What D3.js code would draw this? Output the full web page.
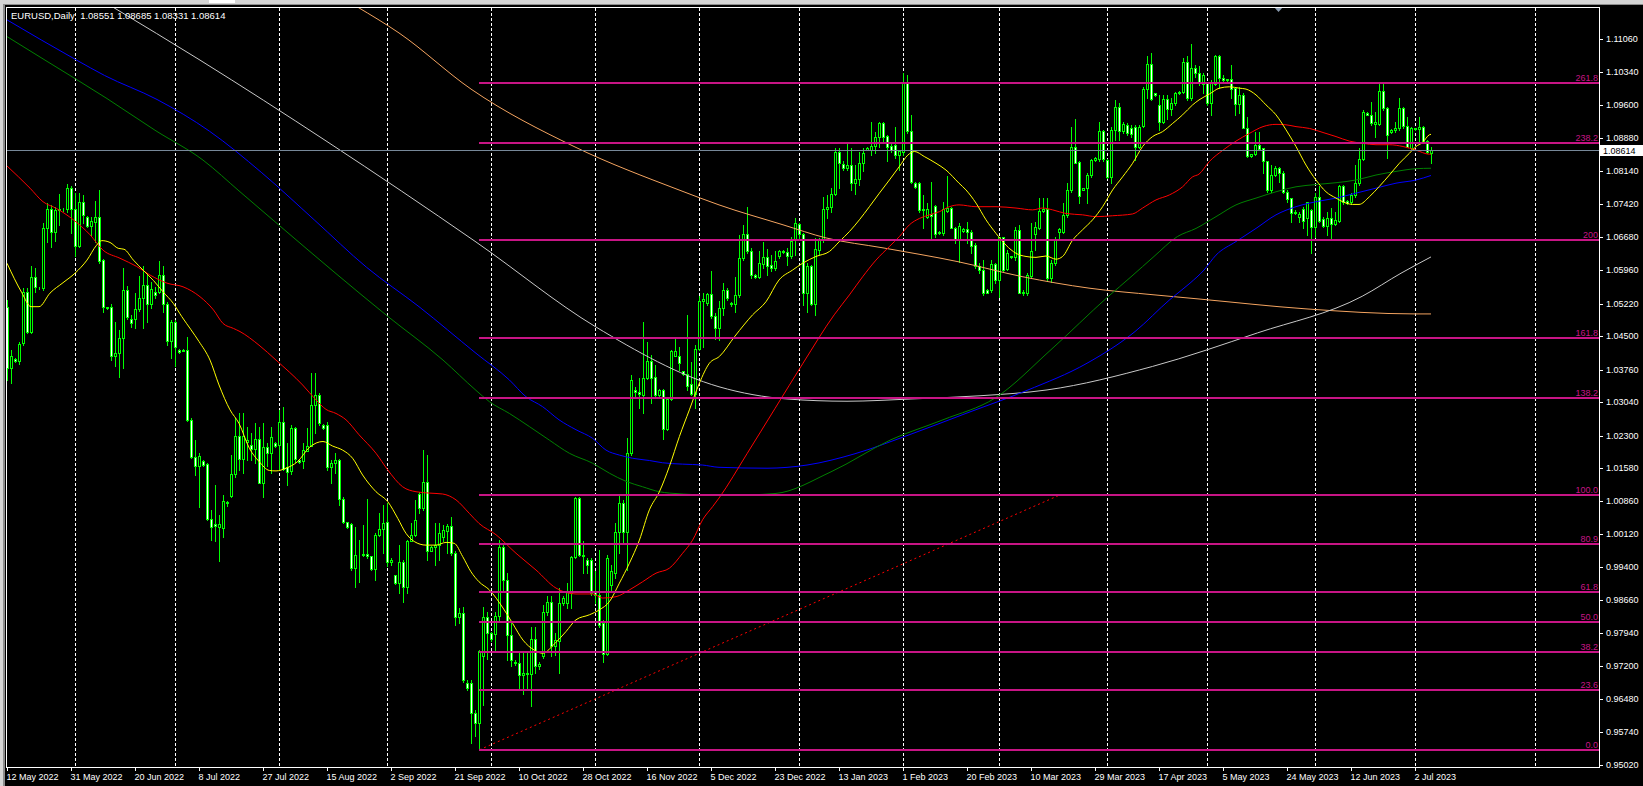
<!DOCTYPE html>
<html>
<head>
<meta charset="utf-8">
<script src="https://cdn.jsdelivr.net/npm/d3@7"></script>
<style>
html, body { margin: 0; padding: 0; background: #000; overflow: hidden; }
svg { display: block; }
text { font-family: "Liberation Sans", Arial, sans-serif; }
</style>
</head>
<body>
<svg id="chart" width="1643" height="786"></svg>
<script>
var header = "EURUSD,Daily  1.08551 1.08685 1.08331 1.08614";
var lastPrice = 1.08614;

// daily bars [open, high, low, close], one per trading day (incl. sunday bars)
var candles = [
[1.0515,1.0530,1.0353,1.0379],[1.0379,1.0419,1.0347,1.0405],[1.0399,1.0401,1.0393,1.0396],[1.0396,1.0438,1.0388,1.0433],
[1.0434,1.0556,1.0430,1.0548],[1.0548,1.0556,1.0456,1.0460],[1.0460,1.0605,1.0456,1.0580],[1.0580,1.0600,1.0548,1.0559],
[1.0556,1.0558,1.0554,1.0557],[1.0556,1.0699,1.0552,1.0688],[1.0688,1.0745,1.0659,1.0730],[1.0730,1.0740,1.0646,1.0679],
[1.0679,1.0736,1.0661,1.0729],[1.0729,1.0764,1.0696,1.0730],[1.0731,1.0733,1.0727,1.0732],[1.0730,1.0786,1.0725,1.0777],
[1.0777,1.0782,1.0677,1.0730],[1.0730,1.0766,1.0626,1.0649],[1.0649,1.0766,1.0646,1.0747],[1.0747,1.0762,1.0699,1.0718],
[1.0714,1.0716,1.0692,1.0693],[1.0693,1.0713,1.0674,1.0704],[1.0703,1.0749,1.0659,1.0714],[1.0714,1.0772,1.0611,1.0617],
[1.0618,1.0620,1.0504,1.0514],[1.0514,1.0515,1.0510,1.0512],[1.0514,1.0521,1.0397,1.0405],[1.0405,1.0482,1.0383,1.0413],
[1.0413,1.0464,1.0359,1.0445],[1.0445,1.0600,1.0379,1.0552],[1.0552,1.0561,1.0487,1.0492],[1.0487,1.0497,1.0471,1.0478],
[1.0487,1.0545,1.0467,1.0509],[1.0509,1.0583,1.0506,1.0534],[1.0534,1.0604,1.0467,1.0563],[1.0563,1.0585,1.0482,1.0521],
[1.0521,1.0570,1.0511,1.0553],[1.0548,1.0558,1.0535,1.0541],[1.0548,1.0615,1.0545,1.0585],[1.0585,1.0605,1.0504,1.0521],
[1.0521,1.0526,1.0430,1.0440],[1.0440,1.0486,1.0402,1.0482],[1.0482,1.0486,1.0383,1.0427],[1.0419,1.0422,1.0413,1.0415],
[1.0419,1.0422,1.0416,1.0418],[1.0419,1.0449,1.0263,1.0265],[1.0265,1.0268,1.0180,1.0182],[1.0182,1.0220,1.0143,1.0162],
[1.0162,1.0192,1.0073,1.0185],[1.0173,1.0176,1.0163,1.0165],[1.0167,1.0169,1.0044,1.0045],[1.0045,1.0066,0.9999,1.0029],
[1.0035,1.0121,0.9996,1.0030],[1.0029,1.0055,0.9952,1.0035],[1.0025,1.0099,1.0007,1.0086],[1.0080,1.0086,1.0075,1.0083],
[1.0097,1.0187,1.0095,1.0145],[1.0145,1.0268,1.0139,1.0229],[1.0229,1.0279,1.0154,1.0178],[1.0178,1.0279,1.0147,1.0229],
[1.0215,1.0250,1.0176,1.0221],[1.0210,1.0235,1.0176,1.0200],[1.0200,1.0257,1.0169,1.0222],[1.0222,1.0250,1.0125,1.0126],
[1.0126,1.0257,1.0095,1.0204],[1.0204,1.0213,1.0162,1.0191],[1.0191,1.0250,1.0147,1.0226],[1.0213,1.0217,1.0205,1.0208],
[1.0210,1.0287,1.0154,1.0261],[1.0261,1.0294,1.0154,1.0156],[1.0160,1.0213,1.0121,1.0149],[1.0151,1.0253,1.0145,1.0246],
[1.0246,1.0250,1.0172,1.0178],[1.0176,1.0178,1.0170,1.0172],[1.0173,1.0213,1.0158,1.0198],[1.0197,1.0246,1.0195,1.0207],
[1.0207,1.0368,1.0206,1.0298],[1.0298,1.0368,1.0235,1.0320],[1.0320,1.0324,1.0254,1.0257],[1.0254,1.0256,1.0245,1.0247],
[1.0254,1.0261,1.0154,1.0160],[1.0160,1.0176,1.0125,1.0169],[1.0169,1.0191,1.0147,1.0176],[1.0176,1.0178,1.0077,1.0089],
[1.0089,1.0095,1.0036,1.0040],[1.0038,1.0040,1.0025,1.0027],[1.0035,1.0036,0.9934,0.9937],[0.9937,1.0029,0.9896,0.9966],
[0.9966,0.9999,0.9907,0.9967],[0.9967,1.0033,0.9963,0.9969],[0.9969,1.0089,0.9959,0.9963],[0.9963,0.9964,0.9934,0.9935],
[0.9935,1.0014,0.9911,1.0011],[1.0011,1.0058,1.0008,1.0023],[1.0023,1.0077,0.9970,1.0036],[1.0038,1.0080,0.9941,0.9950],
[0.9950,0.9960,0.9944,0.9955],[0.9922,0.9922,0.9902,0.9905],[0.9905,0.9988,0.9882,0.9950],[0.9950,0.9955,0.9863,0.9896],
[0.9896,0.9999,0.9882,0.9997],[0.9997,1.0036,0.9996,1.0011],[1.0011,1.0088,1.0008,1.0044],[1.0101,1.0106,1.0058,1.0069],
[1.0069,1.0198,1.0066,1.0128],[1.0128,1.0187,0.9955,0.9976],[0.9976,0.9985,0.9974,0.9983],[0.9983,1.0036,0.9944,0.9988],
[0.9988,1.0036,0.9955,1.0014],[1.0007,1.0033,0.9996,1.0022],[1.0020,1.0035,0.9970,1.0031],[1.0031,1.0051,0.9966,0.9970],
[0.9970,0.9974,0.9812,0.9830],[0.9830,0.9848,0.9815,0.9837],[0.9837,0.9852,0.9686,0.9689],[0.9684,0.9690,0.9668,0.9672],
[0.9684,0.9690,0.9550,0.9618],[0.9618,0.9624,0.9565,0.9594],[0.9594,0.9756,0.9536,0.9753],[0.9742,0.9852,0.9635,0.9829],
[0.9829,0.9841,0.9737,0.9793],[0.9793,0.9796,0.9777,0.9780],[0.9792,0.9841,0.9756,0.9832],[0.9832,0.9999,0.9823,0.9983],
[0.9983,0.9992,0.9889,0.9910],[0.9910,0.9926,0.9734,0.9790],[0.9790,0.9815,0.9720,0.9734],[0.9730,0.9735,0.9722,0.9728],
[0.9728,0.9750,0.9670,0.9700],[0.9700,0.9755,0.9660,0.9706],[0.9706,0.9750,0.9668,0.9703],[0.9703,0.9808,0.9632,0.9780],
[0.9780,0.9808,0.9705,0.9720],[0.9720,0.9730,0.9715,0.9725],[0.9742,0.9856,0.9738,0.9841],[0.9841,0.9876,0.9834,0.9862],
[0.9862,0.9876,0.9742,0.9765],[0.9765,0.9793,0.9745,0.9778],[0.9777,0.9893,0.9705,0.9860],[0.9860,0.9875,0.9855,0.9871],
[0.9860,0.9904,0.9849,0.9885],[0.9883,0.9963,0.9849,0.9961],[0.9961,1.0094,0.9959,1.0092],[1.0092,1.0095,0.9963,0.9966],
[0.9964,0.9998,0.9926,0.9966],[0.9955,0.9959,0.9926,0.9944],[0.9955,0.9959,0.9878,0.9883],[0.9885,0.9930,0.9860,0.9878],
[0.9878,0.9977,0.9808,0.9812],[0.9815,0.9823,0.9730,0.9748],[0.9748,0.9966,0.9745,0.9959],[0.9900,0.9944,0.9889,0.9930],
[0.9927,1.0036,0.9915,1.0018],[1.0018,1.0097,0.9970,1.0081],[1.0081,1.0088,0.9992,1.0018],[1.0018,1.0224,0.9933,1.0191],
[1.0191,1.0364,1.0187,1.0353],[1.0331,1.0338,1.0316,1.0327],[1.0327,1.0357,1.0290,1.0322],[1.0320,1.0482,1.0279,1.0357],
[1.0357,1.0438,1.0355,1.0394],[1.0394,1.0408,1.0302,1.0357],[1.0359,1.0386,1.0313,1.0320],[1.0320,1.0332,1.0316,1.0331],
[1.0331,1.0332,1.0222,1.0244],[1.0244,1.0313,1.0243,1.0310],[1.0310,1.0419,1.0309,1.0417],[1.0407,1.0449,1.0405,1.0416],
[1.0406,1.0427,1.0375,1.0391],[1.0372,1.0373,1.0364,1.0366],[1.0366,1.0497,1.0331,1.0340],[1.0344,1.0393,1.0320,1.0322],
[1.0322,1.0430,1.0290,1.0421],[1.0421,1.0539,1.0419,1.0528],[1.0527,1.0545,1.0427,1.0531],[1.0523,1.0545,1.0519,1.0543],
[1.0543,1.0593,1.0489,1.0495],[1.0495,1.0500,1.0443,1.0467],[1.0467,1.0527,1.0442,1.0512],[1.0512,1.0567,1.0497,1.0552],
[1.0552,1.0556,1.0530,1.0534],[1.0524,1.0526,1.0517,1.0520],[1.0520,1.0581,1.0504,1.0541],[1.0540,1.0674,1.0537,1.0622],
[1.0622,1.0696,1.0618,1.0675],[1.0675,1.0736,1.0633,1.0637],[1.0638,1.0644,1.0579,1.0584],[1.0585,1.0587,1.0579,1.0581],
[1.0581,1.0637,1.0579,1.0611],[1.0609,1.0659,1.0600,1.0625],[1.0625,1.0643,1.0585,1.0606],[1.0607,1.0629,1.0593,1.0600],
[1.0600,1.0637,1.0596,1.0616],[1.0626,1.0640,1.0622,1.0638],[1.0638,1.0640,1.0633,1.0635],[1.0635,1.0644,1.0607,1.0626],
[1.0626,1.0670,1.0622,1.0660],[1.0663,1.0712,1.0629,1.0699],[1.0697,1.0699,1.0663,1.0675],[1.0675,1.0677,1.0519,1.0545],
[1.0545,1.0611,1.0504,1.0605],[1.0605,1.0607,1.0519,1.0520],[1.0520,1.0666,1.0497,1.0643],[1.0640,1.0666,1.0629,1.0663],
[1.0663,1.0758,1.0659,1.0732],[1.0732,1.0762,1.0710,1.0736],[1.0736,1.0777,1.0725,1.0763],[1.0763,1.0865,1.0762,1.0858],
[1.0858,1.0865,1.0777,1.0832],[1.0830,1.0836,1.0817,1.0821],[1.0821,1.0874,1.0817,1.0828],[1.0828,1.0865,1.0773,1.0788],
[1.0788,1.0828,1.0763,1.0797],[1.0797,1.0858,1.0784,1.0832],[1.0832,1.0865,1.0814,1.0854],[1.0862,1.0867,1.0861,1.0865],
[1.0861,1.0924,1.0850,1.0871],[1.0871,1.0902,1.0854,1.0891],[1.0891,1.0924,1.0869,1.0920],[1.0920,1.0924,1.0880,1.0891],
[1.0892,1.0895,1.0836,1.0867],[1.0871,1.0876,1.0858,1.0861],[1.0872,1.0913,1.0843,1.0850],[1.0850,1.0861,1.0817,1.0859],
[1.0858,1.1031,1.0850,1.1011],[1.1011,1.1027,1.0898,1.0903],[1.0903,1.0939,1.0789,1.0791],[1.0788,1.0791,1.0777,1.0780],
[1.0788,1.0791,1.0725,1.0729],[1.0728,1.0762,1.0688,1.0731],[1.0714,1.0744,1.0710,1.0731],[1.0719,1.0791,1.0666,1.0716],
[1.0738,1.0740,1.0670,1.0675],[1.0677,1.0682,1.0675,1.0681],[1.0677,1.0747,1.0674,1.0731],[1.0727,1.0803,1.0725,1.0734],
[1.0734,1.0736,1.0688,1.0690],[1.0690,1.0692,1.0655,1.0663],[1.0663,1.0700,1.0613,1.0694],[1.0683,1.0688,1.0681,1.0686],
[1.0686,1.0703,1.0655,1.0681],[1.0681,1.0685,1.0633,1.0649],[1.0651,1.0655,1.0600,1.0604],[1.0604,1.0611,1.0589,1.0595],
[1.0596,1.0618,1.0541,1.0545],[1.0552,1.0553,1.0545,1.0546],[1.0551,1.0618,1.0548,1.0609],[1.0609,1.0611,1.0567,1.0574],
[1.0574,1.0670,1.0537,1.0668],[1.0668,1.0670,1.0593,1.0596],[1.0598,1.0640,1.0596,1.0634],[1.0624,1.0628,1.0622,1.0626],
[1.0624,1.0692,1.0618,1.0685],[1.0685,1.0696,1.0545,1.0546],[1.0548,1.0552,1.0541,1.0546],[1.0546,1.0589,1.0541,1.0585],
[1.0583,1.0699,1.0580,1.0638],[1.0676,1.0703,1.0640,1.0692],[1.0688,1.0755,1.0686,1.0727],[1.0727,1.0755,1.0725,1.0730],
[1.0730,1.0755,1.0574,1.0578],[1.0578,1.0618,1.0570,1.0611],[1.0611,1.0670,1.0607,1.0664],[1.0681,1.0688,1.0662,1.0686],
[1.0681,1.0744,1.0677,1.0718],[1.0718,1.0788,1.0714,1.0773],[1.0773,1.0913,1.0769,1.0869],[1.0869,1.0929,1.0832,1.0833],
[1.0834,1.0836,1.0744,1.0760],[1.0773,1.0778,1.0772,1.0777],[1.0777,1.0810,1.0744,1.0806],[1.0806,1.0841,1.0802,1.0839],
[1.0839,1.0845,1.0838,1.0843],[1.0841,1.0924,1.0838,1.0903],[1.0903,1.0906,1.0838,1.0841],[1.0839,1.0841,1.0799,1.0802],
[1.0802,1.0913,1.0788,1.0906],[1.0906,1.0972,1.0883,1.0956],[1.0956,1.0965,1.0883,1.0904],[1.0904,1.0924,1.0898,1.0919],
[1.0917,1.0920,1.0894,1.0898],[1.0911,1.0917,1.0891,1.0897],[1.0913,1.0917,1.0839,1.0867],[1.0867,1.0917,1.0865,1.0913],
[1.0914,1.1001,1.0913,1.0996],[1.0996,1.1068,1.0976,1.1051],[1.1051,1.1075,1.0972,1.0973],[1.0987,1.0988,1.0981,1.0983],
[1.0961,1.0983,1.0906,1.0923],[1.0924,1.0983,1.0920,1.0973],[1.0973,1.0983,1.0929,1.0951],[1.0951,1.0976,1.0939,1.0966],
[1.0966,1.0990,1.0961,1.0987],[1.0990,1.0992,1.0986,1.0988],[1.0990,1.1064,1.0987,1.1055],[1.1055,1.1068,1.0972,1.0976],
[1.0976,1.1096,1.0972,1.1043],[1.1043,1.1049,1.1023,1.1031],[1.1031,1.1046,1.1005,1.1012],[1.1007,1.1031,1.0987,1.1026],
[1.1009,1.1012,1.0961,1.0965],[1.0965,1.1016,1.0939,1.1009],[1.1007,1.1071,1.1005,1.1068],[1.1068,1.1071,1.0998,1.1021],
[1.1021,1.1026,1.1010,1.1016],[1.1015,1.1019,1.1013,1.1018],[1.1018,1.1049,1.0976,1.0996],[1.0998,1.1001,1.0939,1.0962],
[1.0962,1.1001,1.0943,1.0983],[1.0983,1.0987,1.0909,1.0911],[1.0911,1.0935,1.0845,1.0847],[1.0848,1.0853,1.0846,1.0852],
[1.0852,1.0902,1.0850,1.0873],[1.0873,1.0902,1.0861,1.0864],[1.0865,1.0866,1.0810,1.0836],[1.0836,1.0837,1.0769,1.0773],
[1.0773,1.0828,1.0769,1.0806],[1.0806,1.0825,1.0803,1.0821],[1.0821,1.0823,1.0791,1.0810],[1.0810,1.0814,1.0766,1.0768],
[1.0768,1.0773,1.0747,1.0753],[1.0755,1.0756,1.0703,1.0722],[1.0725,1.0729,1.0719,1.0722],[1.0714,1.0725,1.0703,1.0719],
[1.0731,1.0736,1.0688,1.0705],[1.0712,1.0747,1.0674,1.0746],[1.0729,1.0731,1.0633,1.0692],[1.0692,1.0766,1.0670,1.0758],
[1.0758,1.0781,1.0703,1.0705],[1.0709,1.0714,1.0692,1.0694],[1.0694,1.0725,1.0674,1.0710],[1.0710,1.0733,1.0666,1.0697],
[1.0697,1.0725,1.0696,1.0707],[1.0705,1.0784,1.0703,1.0782],[1.0782,1.0784,1.0741,1.0747],[1.0749,1.0751,1.0743,1.0744],
[1.0747,1.0766,1.0741,1.0762],[1.0762,1.0828,1.0758,1.0788],[1.0788,1.0865,1.0784,1.0842],[1.0842,1.0950,1.0839,1.0945],
[1.0942,1.0946,1.0938,1.0939],[1.0939,1.0968,1.0917,1.0920],[1.0918,1.0946,1.0891,1.0924],[1.0918,1.1012,1.0917,1.0992],
[1.0992,1.1012,1.0950,1.0954],[1.0954,1.0957,1.0843,1.0895],[1.0902,1.0907,1.0900,1.0906],[1.0906,1.0924,1.0902,1.0911],
[1.0909,1.0977,1.0906,1.0955],[1.0955,1.0957,1.0909,1.0914],[1.0914,1.0935,1.0867,1.0869],[1.0865,1.0913,1.0861,1.0909],
[1.0907,1.0910,1.0906,1.0909],[1.0908,1.0935,1.0875,1.0913],[1.0913,1.0915,1.0878,1.0881],[1.0881,1.0884,1.0854,1.0858],
[1.08551,1.08685,1.08331,1.08614]
];

// moving averages: [bar index, price]
var maYellow = [[0,1.0611],[3.7,1.0546],[6,1.0515],[8,1.0515],[10.75,1.0545],[14,1.0568],[17,1.0589],[20,1.0618],[22.4,1.0651],
[23.7,1.0661],[25.75,1.0657],[27.8,1.0644],[29.25,1.0642],[31.6,1.0618],[34,1.0596],[36.6,1.0573],[39,1.0548],[41.6,1.0522],
[43.7,1.0493],[46,1.0464],[48,1.0438],[50.75,1.0397],[53,1.0342],[55.75,1.0287],[58,1.0257],[60.6,1.0202],[63,1.0173],
[65.6,1.0153],[67.25,1.0152],[69.75,1.0158],[72.7,1.0173],[75.6,1.0204],[79,1.0217],[81.4,1.0207],[83.9,1.0198],[86.4,1.0180],
[88.9,1.0143],[92.25,1.0106],[95.2,1.0084],[97.7,1.0047],[99.75,1.0014],[101.8,0.9996],[104.75,0.9988],[107.25,0.9988],
[109.75,0.9994],[111.8,0.9992],[113.9,0.9963],[116,0.9929],[118,0.9907],[120.6,0.9889],[124,0.9849],[126.4,0.9815],
[129,0.9778],[131.8,0.9756],[133.9,0.9749],[137,0.9771],[139.75,0.9797],[142.25,0.9823],[145.6,0.9834],[148.1,0.9845],
[150.6,0.9863],[153.1,0.9904],[155.6,0.9948],[158.1,0.9999],[160.6,1.0066],[163.1,1.0106],[165.6,1.0162],[168.1,1.0228],
[170.6,1.0287],[173.1,1.0346],[175.6,1.0390],[178.1,1.0405],[182,1.0450],[186.4,1.0497],[189.75,1.0526],[193,1.0574],
[196.4,1.0596],[198.9,1.0611],[202.25,1.0626],[205.6,1.0637],[208.1,1.0659],[210.6,1.0681],[213.1,1.0707],[215.6,1.0736],
[218.1,1.0766],[220.6,1.0795],[223.1,1.0825],[225.2,1.0850],[226.9,1.0858],[229.3,1.0847],[232.25,1.0832],[234.75,1.0817],
[238,1.0788],[239.75,1.0773],[242.25,1.0744],[244.75,1.0707],[247.25,1.0677],[249.75,1.0651],[252.25,1.0633],[254.75,1.0626],
[257.25,1.0624],[259.75,1.0627],[262.25,1.0620],[263.9,1.0626],[266.4,1.0662],[268.9,1.0685],[271.4,1.0707],[273.9,1.0736],
[276.4,1.0773],[278.9,1.0802],[281.4,1.0832],[283.9,1.0869],[286.4,1.0891],[288.9,1.0902],[291.4,1.0920],[293.9,1.0939],
[296.4,1.0961],[298,1.0972],[300.6,1.0985],[303.1,1.0998],[305.6,1.1001],[308.1,1.0998],[309.75,1.0996],[312.25,1.0983],
[314.75,1.0961],[317.25,1.0939],[319.75,1.0906],[322.25,1.0869],[324.75,1.0828],[327.25,1.0795],[329.75,1.0769],
[332.25,1.0755],[334.75,1.0744],[336.4,1.0741],[338,1.0741],[340.6,1.0758],[343.1,1.0781],[345.6,1.0806],[348.1,1.0832],
[350.6,1.0854],[352.25,1.0869],[353.9,1.0878],[355.6,1.0895],[356,1.0896]];

var maRed = [[0,1.0826],[5.75,1.0777],[9,1.0747],[12.4,1.0732],[16.6,1.0707],[20.75,1.0674],[24,1.0640],[28.25,1.0622],
[32.4,1.0604],[35.75,1.0585],[40,1.0567],[44,1.0559],[48.25,1.0537],[51.6,1.0508],[54,1.0478],[56.6,1.0467],[58.25,1.0460],
[63,1.0430],[67.25,1.0397],[73.9,1.0342],[77.25,1.0309],[79.75,1.0288],[82.25,1.0279],[84.75,1.0265],[88,1.0232],
[92.25,1.0191],[95.2,1.0154],[98.9,1.0117],[102.25,1.0106],[105.6,1.0103],[108.9,1.0101],[112.25,1.0088],[115.6,1.0058],
[118,1.0036],[122.25,1.0011],[127.25,0.9970],[132.25,0.9933],[137.25,0.9893],[142.25,0.9880],[146.4,0.9880],[148.9,0.9871],
[152.25,0.9874],[155.6,0.9889],[158.9,0.9907],[162.25,0.9926],[165.6,0.9937],[168.9,0.9970],[171.4,0.9999],[173.9,1.0044],
[176.4,1.0073],[178,1.0092],[185,1.0190],[192,1.0290],[199,1.0390],[206.8,1.0497],[210.6,1.0541],[213.9,1.0581],
[217.25,1.0618],[220.6,1.0648],[223.1,1.0670],[225.6,1.0696],[228.1,1.0710],[230.6,1.0718],[233.1,1.0725],[235.6,1.0736],
[238,1.0740],[242.25,1.0736],[247.25,1.0736],[252.25,1.0733],[256.4,1.0729],[258.9,1.0733],[261.4,1.0729],[264.75,1.0721],
[268.9,1.0718],[272.25,1.0714],[276.4,1.0716],[281.4,1.0720],[283.9,1.0733],[287.25,1.0751],[290.6,1.0762],[293.9,1.0780],
[296.4,1.0802],[298,1.0808],[300.6,1.0836],[304,1.0861],[307.25,1.0881],[310.6,1.0898],[314,1.0913],[317.25,1.0918],
[319.75,1.0917],[322.25,1.0913],[325.6,1.0909],[329,1.0900],[332.25,1.0891],[335.6,1.0881],[339,1.0876],[342.25,1.0873],
[345.6,1.0873],[349,1.0869],[352.25,1.0861],[355.6,1.0852],[356,1.0852]];

var maGreen = [[0,1.1112],[9.5,1.1060],[25,1.0975],[37,1.0905],[49,1.0839],[58.25,1.0769],[70,1.0680],[82,1.0590],
[95,1.0495],[109,1.0397],[117.25,1.0330],[120.6,1.0305],[125.6,1.0279],[130.6,1.0250],[135.6,1.0220],[140.6,1.0191],
[146.4,1.0169],[150.6,1.0147],[154.75,1.0129],[158.9,1.0117],[163.1,1.0106],[165.6,1.0103],[180,1.0098],[192,1.0102],
[206,1.0150],[221,1.0221],[234,1.0265],[247,1.0313],[261,1.0420],[275.25,1.0537],[281,1.0581],[286.75,1.0626],[292.6,1.0670],
[297.25,1.0688],[302.25,1.0714],[307.25,1.0740],[312.25,1.0755],[317.25,1.0769],[322.25,1.0780],[327.25,1.0785],
[332.25,1.0789],[337.25,1.0795],[342.25,1.0806],[347.25,1.0814],[352.25,1.0820],[356,1.0821]];

var maBlue = [[0,1.1149],[17.4,1.1060],[24.4,1.1026],[37.5,1.0973],[50.6,1.0903],[63.7,1.0811],[76.8,1.0707],[89.9,1.0602],
[103,1.0515],[117.25,1.0412],[125.6,1.0353],[129.75,1.0316],[133.9,1.0294],[138,1.0265],[142.25,1.0243],[146.4,1.0224],
[149.75,1.0198],[153.1,1.0187],[156.4,1.0180],[160.6,1.0175],[163.9,1.0170],[168.9,1.0167],[173.9,1.0165],[178,1.0160],
[190,1.0158],[200,1.0165],[212,1.0190],[225,1.0230],[240,1.0280],[255,1.0330],[270,1.0390],[282,1.0460],[290.75,1.0531],
[295.75,1.0567],[299.25,1.0596],[302.25,1.0629],[307.25,1.0659],[312.25,1.0688],[317.25,1.0718],[322.25,1.0736],
[327.25,1.0747],[332.25,1.0755],[337.25,1.0766],[342.25,1.0777],[347.25,1.0788],[352.25,1.0795],[356,1.0805]];

var maWhite = [[26.5,1.1177],[48.25,1.1060],[80,1.0880],[117.25,1.0658],[147.25,1.0470],[178,1.0338],[195,1.0311],
[210,1.0306],[226,1.0311],[243,1.0318],[260,1.0331],[286.4,1.0383],[312.6,1.0457],[338.8,1.0538],[348.5,1.0589],[356,1.0625]];

var maOrange = [[87.5,1.1178],[98,1.1120],[116,1.0996],[142,1.0868],[168,1.0773],[178,1.0740],[194,1.0696],[204.75,1.0667],
[219,1.0645],[238,1.0614],[254,1.0581],[270.5,1.0556],[287,1.0541],[298,1.0532],[325,1.0510],[352,1.0499],[356,1.0499]];

var priceTicks = [1.11060,1.10340,1.09600,1.08880,1.08140,1.07420,1.06680,1.05960,1.05220,1.04500,1.03760,1.03040,
1.02300,1.01580,1.00860,1.00120,0.99400,0.98660,0.97940,0.97200,0.96480,0.95740,0.95020];

var dateBars = [0,16,32,48,64,80,96,112,128,144,160,176,192,208,224,240,256,272,288,304,320,336,352];
var dateLabels = ["12 May 2022","31 May 2022","20 Jun 2022","8 Jul 2022","27 Jul 2022","15 Aug 2022","2 Sep 2022",
"21 Sep 2022","10 Oct 2022","28 Oct 2022","16 Nov 2022","5 Dec 2022","23 Dec 2022","13 Jan 2023","1 Feb 2023",
"20 Feb 2023","10 Mar 2023","29 Mar 2023","17 Apr 2023","5 May 2023","24 May 2023","12 Jun 2023","2 Jul 2023"];

// first bar of each month -> vertical grid
var monthBars = [17,42,68,95,121,147,173,198,224,248,275,300,327,352,382];

// fibonacci retracement / expansion
var fibLow = 0.95357, fibHigh = 1.00985, fibLowBar = 118, fibHighBar = 263;
var fibLevels = [0, 23.6, 38.2, 50, 61.8, 80.9, 100, 138.2, 161.8, 200, 238.2, 261.8];
var fibTexts = ["0.0","23.6","38.2","50.0","61.8","80.9","100.0","138.2","161.8","200","238.2","261.8"];

var svg = d3.select("#chart"),
    W = 1643, H = 786,
    plotL = 7, plotT = 8, plotR = 1599, plotB = 767;

var x = d3.scaleLinear().domain([0, candles.length - 1]).range([7, 1431]);
var y = d3.scaleLinear().domain([0.9502, 1.1106]).range([765, 39.3]);
var yr = y.copy().interpolate(d3.interpolateRound);

svg.append("rect").attr("width", W).attr("height", H).attr("fill", "#000");

// window chrome
svg.append("rect").attr("x", 0).attr("y", 0).attr("width", W).attr("height", 4).attr("fill", "#d4d4d4");
svg.append("rect").attr("x", 0).attr("y", 4).attr("width", W).attr("height", 1).attr("fill", "#8c8c8c");
svg.append("rect").attr("x", 0).attr("y", 0).attr("width", 3).attr("height", H).attr("fill", "#d4d4d4");
svg.append("rect").attr("x", 3).attr("y", 4).attr("width", 2).attr("height", H).attr("fill", "#8c8c8c");
svg.append("rect").attr("x", 209).attr("y", 0).attr("width", 26).attr("height", 3).attr("fill", "#fff");
svg.append("path").attr("d", "M1274,7L1283,7L1278.5,12Z").attr("fill", "#8a9bb0");

svg.append("defs").append("clipPath").attr("id", "plotclip")
  .append("rect").attr("x", plotL).attr("y", plotT).attr("width", plotR - plotL).attr("height", plotB - plotT);

var g = svg.append("g").attr("clip-path", "url(#plotclip)");

// month grid
g.selectAll(".vgrid")
  .data(monthBars)
  .enter().append("line")
    .attr("class", "vgrid")
    .attr("x1", function(d) { return x(d) + 0.5; })
    .attr("x2", function(d) { return x(d) + 0.5; })
    .attr("y1", plotT)
    .attr("y2", plotB)
    .attr("stroke", "#fff")
    .attr("stroke-dasharray", "3,2")
    .attr("shape-rendering", "crispEdges");

// candles
var bar = g.selectAll(".bar")
  .data(candles)
  .enter().append("g")
    .attr("class", "bar");

bar.append("line")
    .attr("x1", function(d, i) { return x(i) + 0.5; })
    .attr("x2", function(d, i) { return x(i) + 0.5; })
    .attr("y1", function(d) { return yr(Math.max(d[1], d[0], d[3])); })
    .attr("y2", function(d) { return yr(Math.min(d[2], d[0], d[3])) + 1; })
    .attr("stroke", "#00ff00")
    .attr("shape-rendering", "crispEdges");

bar.append("rect")
    .attr("x", function(d, i) { return x(i) - 0.5; })
    .attr("y", function(d) { return Math.min(yr(d[0]), yr(d[3])) + 0.5; })
    .attr("width", 2)
    .attr("height", function(d) { return Math.abs(yr(d[0]) - yr(d[3])); })
    .attr("fill", function(d) { return d[3] >= d[0] ? "#000" : "#fff"; })
    .attr("stroke", "#00ff00")
    .attr("shape-rendering", "crispEdges");

// moving averages
var maLine = d3.line()
    .x(function(d) { return x(d[0]); })
    .y(function(d) { return y(d[1]); })
    .curve(d3.curveMonotoneX);

[[maOrange, "#f4a460"], [maWhite, "#c8c8c8"], [maBlue, "#0000ff"], [maGreen, "#008000"], [maRed, "#ff0000"], [maYellow, "#ffff00"]]
  .forEach(function(m) {
    g.append("path")
      .datum(m[0])
      .attr("d", maLine)
      .attr("fill", "none")
      .attr("stroke", m[1])
      .attr("stroke-width", 1);
  });

// fibonacci trend line
g.append("line")
    .attr("x1", x(fibLowBar) + 0.5)
    .attr("y1", y(fibLow))
    .attr("x2", x(fibHighBar) + 0.5)
    .attr("y2", y(fibHigh))
    .attr("stroke", "#ff0000")
    .attr("stroke-dasharray", "2,3");

var fib = g.selectAll(".fib")
  .data(fibLevels)
  .enter().append("g")
    .attr("class", "fib");

fib.append("line")
    .attr("x1", x(fibLowBar))
    .attr("x2", plotR)
    .attr("y1", function(d) { return yr(fibLow + d / 100 * (fibHigh - fibLow)); })
    .attr("y2", function(d) { return yr(fibLow + d / 100 * (fibHigh - fibLow)); })
    .attr("stroke", "#c71585")
    .attr("stroke-width", 2)
    .attr("shape-rendering", "crispEdges");

fib.append("text")
    .attr("x", plotR - 1)
    .attr("y", function(d) { return yr(fibLow + d / 100 * (fibHigh - fibLow)) - 2; })
    .attr("text-anchor", "end")
    .attr("font-size", "9px")
    .attr("fill", "#c71585")
    .text(function(d, i) { return fibTexts[i]; });

// bid line
g.append("line")
    .attr("x1", plotL)
    .attr("x2", plotR)
    .attr("y1", yr(lastPrice) + 0.5)
    .attr("y2", yr(lastPrice) + 0.5)
    .attr("stroke", "#778899")
    .attr("shape-rendering", "crispEdges");

// frame
svg.append("rect")
    .attr("x", 6.5).attr("y", 7.5)
    .attr("width", plotR - 6).attr("height", plotB - 7)
    .attr("fill", "none")
    .attr("stroke", "#fff")
    .attr("shape-rendering", "crispEdges");

// price axis
var yAxis = svg.append("g")
    .attr("class", "axis axis--y")
    .attr("transform", "translate(" + plotR + ",0)")
    .call(d3.axisRight(yr).tickValues(priceTicks).tickSize(4).tickFormat(d3.format(".5f")));
yAxis.select(".domain").remove();
yAxis.selectAll("line").attr("stroke", "#fff");
yAxis.selectAll("text").attr("fill", "#fff").attr("font-size", "9px").attr("x", 7)
    .attr("font-family", "Liberation Sans, Arial, sans-serif");

// date axis
var xAxis = svg.append("g")
    .attr("class", "axis axis--x")
    .attr("transform", "translate(0," + plotB + ")")
    .call(d3.axisBottom(x).tickValues(dateBars).tickSize(4).tickFormat(function(d, i) { return dateLabels[i]; }));
xAxis.select(".domain").remove();
xAxis.selectAll("line").attr("stroke", "#fff");
xAxis.selectAll("text").attr("fill", "#fff").attr("font-size", "9px").attr("text-anchor", "start").attr("x", -1)
    .attr("font-family", "Liberation Sans, Arial, sans-serif");

// current price label
svg.append("rect")
    .attr("x", 1600).attr("y", yr(lastPrice) - 5)
    .attr("width", 43).attr("height", 11)
    .attr("fill", "#fff");
svg.append("text")
    .attr("x", 1603).attr("y", yr(lastPrice) + 4)
    .attr("font-size", "9px")
    .attr("fill", "#000")
    .text(d3.format(".5f")(lastPrice));

// title
svg.append("text")
    .attr("x", 11).attr("y", 19)
    .attr("font-size", "9.5px")
    .attr("fill", "#fff")
    .style("white-space", "pre")
    .text(header);
</script>
</body>
</html>
